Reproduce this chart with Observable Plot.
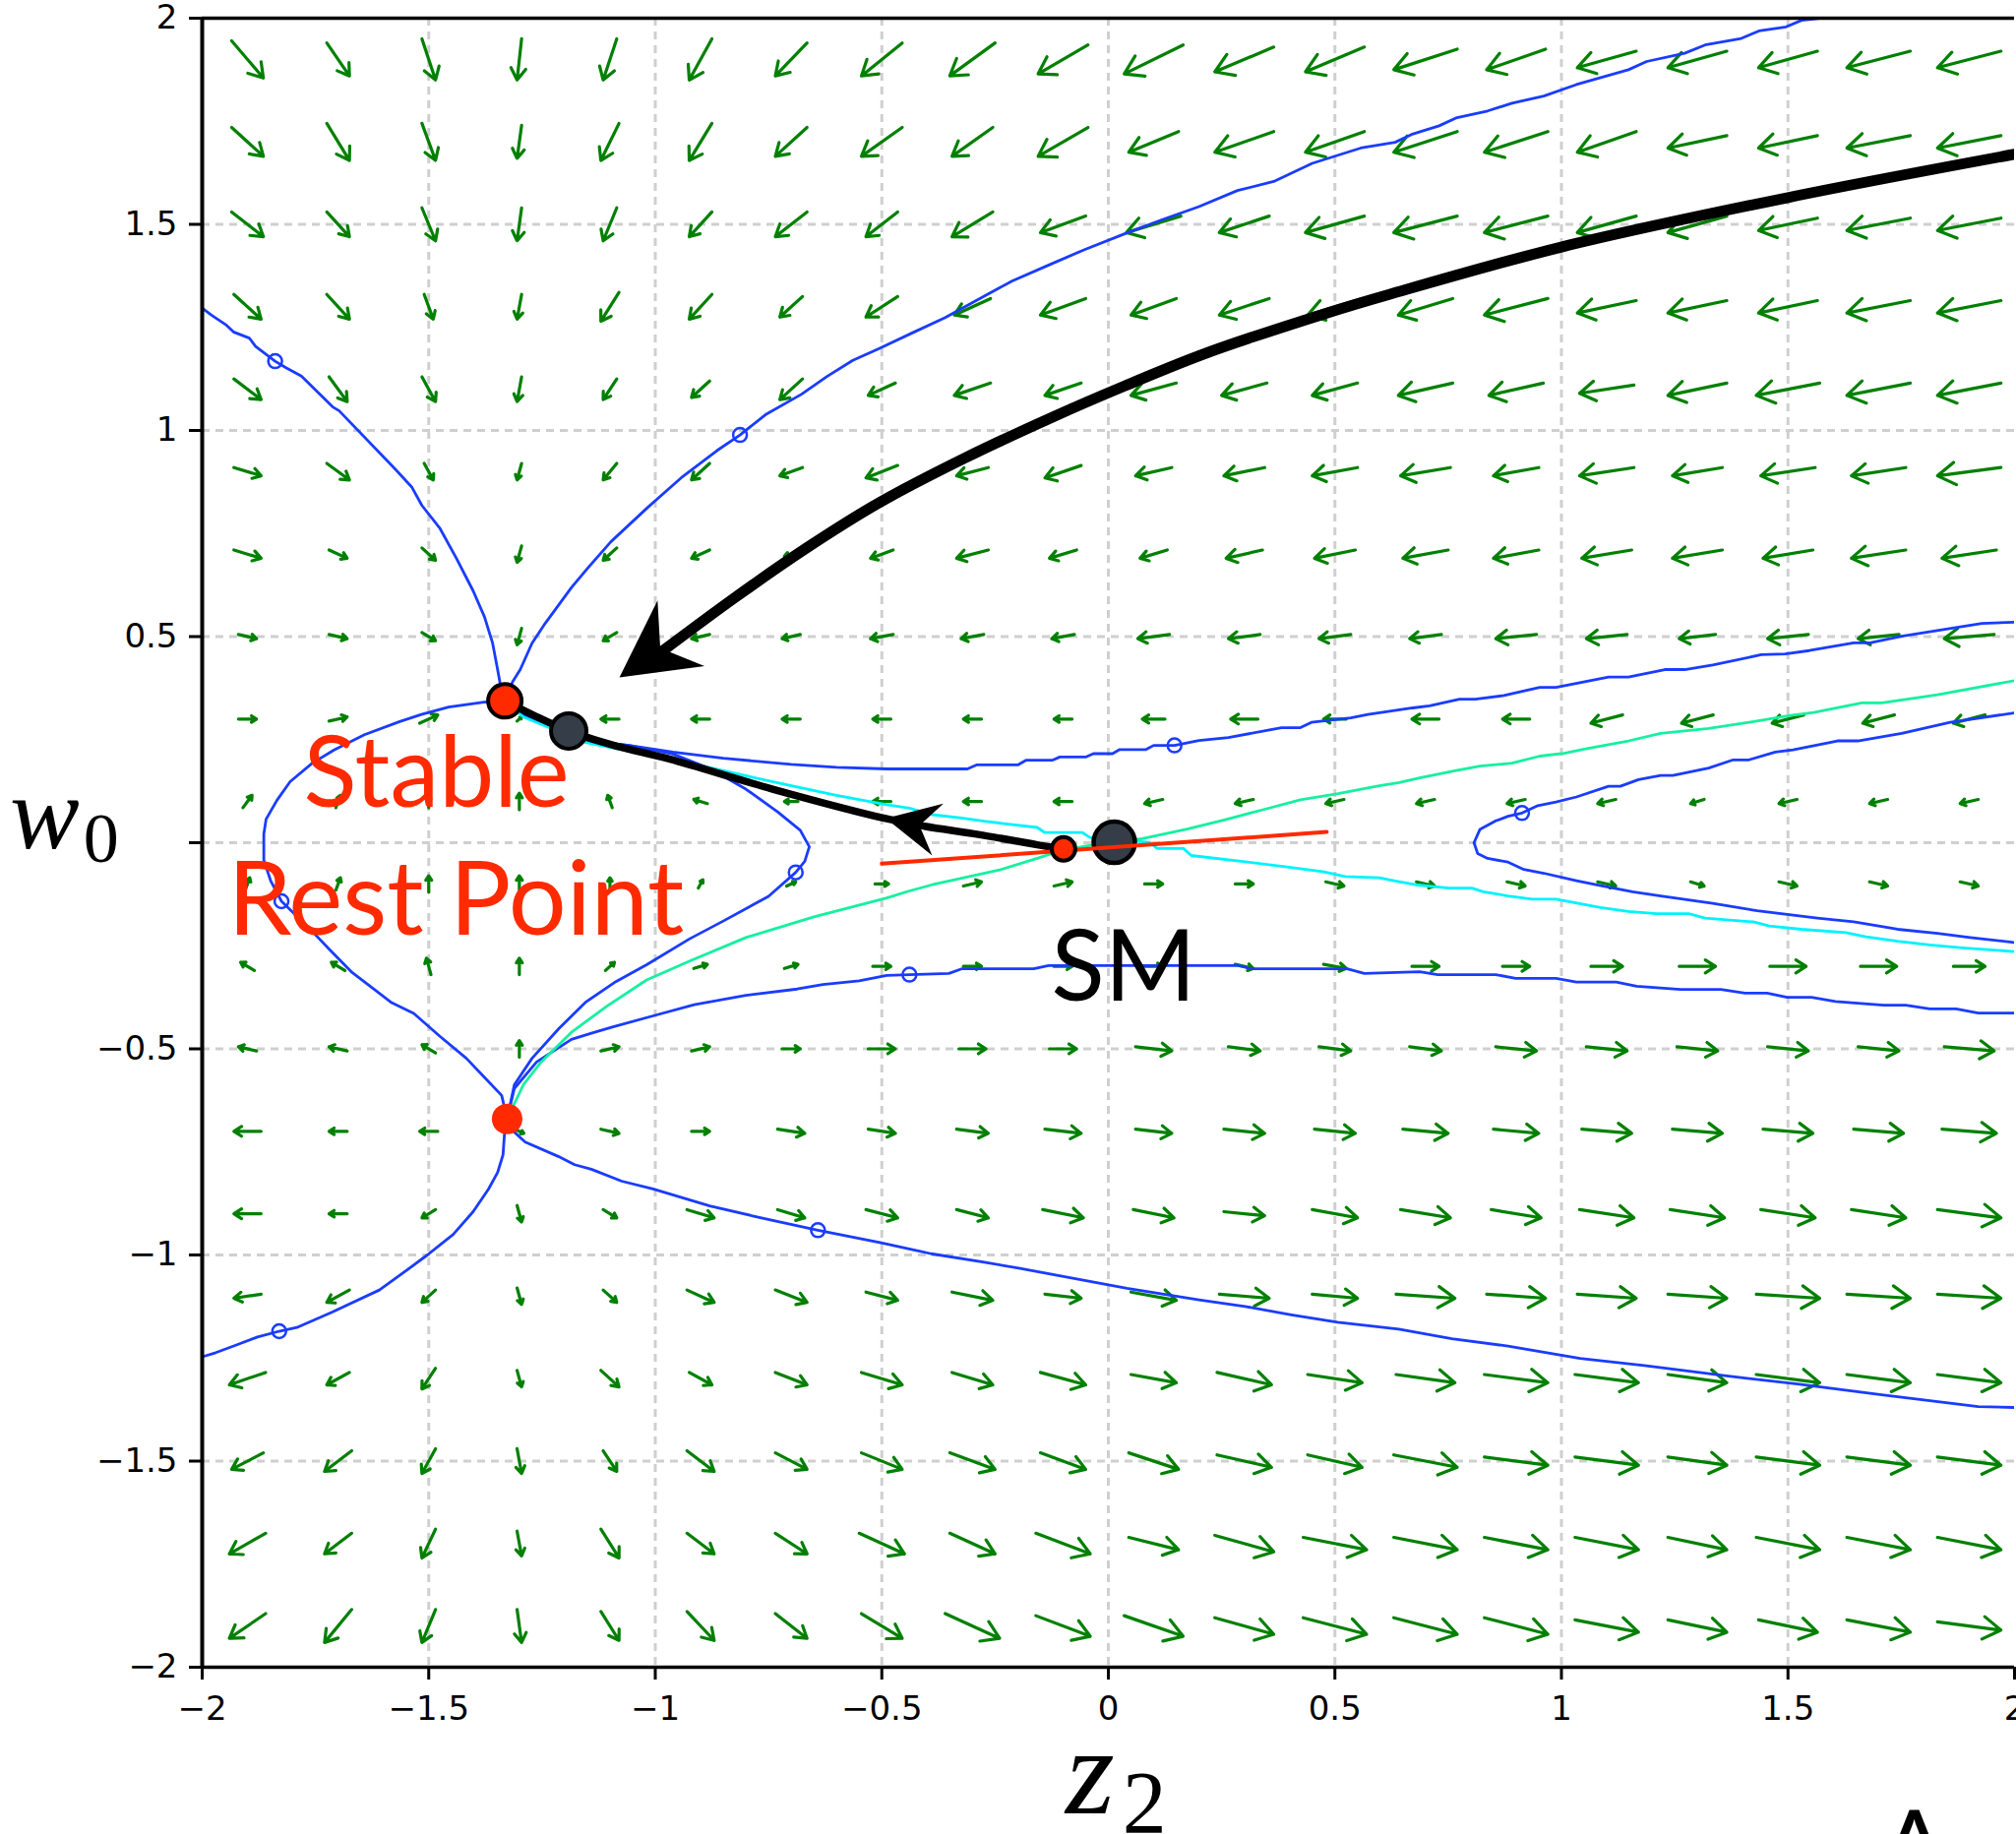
<!DOCTYPE html>
<html><head><meta charset="utf-8">
<script src="https://cdn.jsdelivr.net/npm/d3@7"></script>
<script src="https://cdn.jsdelivr.net/npm/@observablehq/plot@0.6"></script>
<style>
html,body{margin:0;padding:0;background:#fff;overflow:hidden;}
#chart svg{display:block;}
#chart svg g[aria-label$="tick"] path{stroke-width:3px;}
</style></head>
<body><div id="chart"></div>
<script>
// ---------- data ----------
const zGrid = [-1.9,-1.7,-1.5,-1.3,-1.1,-0.9,-0.7,-0.5,-0.3,-0.1,0.1,0.3,0.5,0.7,0.9,1.1,1.3,1.5,1.7,1.9];
const wGrid = [1.9,1.7,1.5,1.3,1.1,0.9,0.7,0.5,0.3,0.1,-0.1,-0.3,-0.5,-0.7,-0.9,-1.1,-1.3,-1.5,-1.7,-1.9];
const tickValues = [-2,-1.5,-1,-0.5,0,0.5,1,1.5,2];
const gridValues = [-1.5,-1,-0.5,0,0.5,1,1.5];

// drawn arrow components (hundredths of an axis unit), one row per w0 value
const arrowU = [
[7,5,3,-1,-3,-5,-7,-9,-10,-11,-13,-13,-13,-14,-13,-13,-13,-13,-14,-14],
[7,5,3,-1,-4,-5,-7,-9,-9,-11,-11,-13,-13,-14,-14,-13,-13,-13,-14,-14],
[7,5,3,-1,-3,-5,-7,-7,-9,-10,-12,-11,-13,-14,-14,-13,-13,-13,-14,-14],
[6,5,2,-1,-4,-5,-5,-7,-8,-10,-10,-11,-12,-12,-14,-13,-13,-13,-14,-14],
[6,4,3,-1,-3,-4,-5,-6,-8,-8,-10,-10,-10,-12,-12,-12,-13,-14,-14,-14],
[6,5,2,-1,-3,-4,-5,-7,-7,-8,-8,-9,-10,-11,-10,-12,-11,-12,-12,-14],
[6,4,3,-1,-3,-4,-3,-5,-7,-6,-6,-8,-9,-10,-10,-11,-11,-11,-12,-12],
[4,4,3,-1,-3,-4,-4,-5,-5,-5,-7,-7,-7,-7,-9,-9,-8,-9,-9,-11],
[4,4,4,1,-4,-4,-4,-4,-4,-4,-5,-6,-5,-6,-6,-7,-7,-7,-7,-7],
[2,1,0,0,-1,-3,-3,-4,-4,-4,-4,-4,-4,-4,-4,-4,-3,-4,-4,-4],
[1,1,0,0,0,1,2,3,4,4,4,4,4,4,4,4,3,4,4,4],
[-3,-3,-1,0,2,3,3,4,4,4,4,4,5,6,6,7,8,8,8,7],
[-4,-4,-3,0,4,4,4,6,6,6,8,7,7,7,9,9,9,9,9,11],
[-6,-4,-4,2,4,4,6,6,7,8,8,9,9,10,10,11,11,11,11,12],
[-6,-4,-3,1,3,6,6,7,7,9,9,9,10,11,11,12,12,12,12,14],
[-6,-5,-3,1,3,6,7,7,9,8,10,11,10,13,13,13,13,14,14,14],
[-8,-5,-3,1,4,5,7,9,9,10,10,12,12,13,14,14,13,14,14,14],
[-7,-6,-3,1,3,6,7,9,10,10,11,12,12,14,14,14,13,14,14,14],
[-8,-6,-3,1,4,6,7,10,10,12,11,13,14,14,14,14,13,14,14,14],
[-8,-6,-3,1,4,6,7,9,12,12,13,13,14,14,14,14,13,13,14,14]
];
const arrowV = [
[-9,-8,-10,-10,-10,-10,-8,-8,-8,-7,-7,-6,-6,-5,-5,-4,-4,-4,-4,-4],
[-7,-9,-9,-8,-9,-9,-7,-7,-7,-7,-5,-5,-5,-5,-5,-5,-3,-3,-3,-3],
[-6,-6,-8,-8,-8,-6,-6,-6,-6,-4,-4,-4,-4,-4,-4,-4,-4,-3,-3,-3],
[-6,-6,-6,-6,-7,-6,-5,-5,-4,-4,-4,-4,-4,-4,-4,-3,-3,-3,-3,-3],
[-5,-6,-6,-6,-5,-4,-5,-3,-3,-3,-3,-3,-3,-3,-3,-2,-3,-3,-3,-3],
[-2,-4,-4,-4,-4,-4,-2,-3,-2,-3,-2,-2,-2,-2,-2,-2,-2,-2,-2,-2],
[-2,-2,-3,-4,-3,-2,-1,-2,-2,-2,-2,-2,-2,-2,-2,-2,-2,-2,-2,-2],
[-1,-1,-2,-4,-2,-1,-1,-1,-1,-1,-1,-1,-1,-1,-1,-1,-1,-1,-1,-1],
[0,1,2,1,0,0,0,0,0,0,0,0,0,0,0,-2,-2,-2,-2,-2],
[3,3,3,4,3,1,0,0,0,0,-1,-1,-1,-1,-1,-1,-1,-1,-1,-1],
[3,3,4,4,3,2,1,0,1,1,0,0,-1,-1,-1,-1,-1,-1,-1,-1],
[2,2,4,4,2,1,1,0,0,0,0,-1,-1,0,0,0,0,0,0,0],
[1,1,2,4,1,1,0,0,0,0,-1,-1,-1,-1,-1,-1,-1,-1,-1,-1],
[0,0,0,-1,-1,0,-1,-1,-1,-1,-1,-1,-1,-1,-1,-1,-1,-1,-1,-1],
[0,0,-2,-4,-2,-2,-2,-2,-2,-2,-2,-1,-2,-2,-2,-2,-2,-2,-2,-2],
[-1,-3,-3,-4,-3,-3,-3,-2,-2,-1,-2,-1,-1,-1,-1,-1,-1,-1,-1,-1],
[-3,-3,-5,-4,-4,-3,-3,-3,-3,-3,-2,-3,-2,-2,-2,-2,-2,-2,-2,-2],
[-4,-5,-6,-6,-5,-5,-4,-4,-4,-4,-4,-3,-3,-3,-2,-2,-2,-2,-2,-2],
[-5,-5,-7,-6,-7,-5,-5,-5,-5,-5,-3,-4,-3,-3,-3,-3,-3,-3,-3,-3],
[-6,-8,-8,-8,-7,-7,-6,-6,-6,-5,-5,-4,-4,-4,-4,-3,-3,-3,-3,-2]
];

// trajectories [z2, w0]
const sepUpperLeft = [[-2.0,1.297],[-1.98,1.28],[-1.946,1.255],[-1.931,1.239],[-1.896,1.224],[-1.882,1.204],[-1.839,1.168],[-1.815,1.152],[-1.781,1.132],[-1.712,1.057],[-1.698,1.048],[-1.573,0.905],[-1.537,0.862],[-1.515,0.818],[-1.475,0.762],[-1.439,0.690],[-1.402,0.611],[-1.377,0.548],[-1.359,0.484],[-1.348,0.420],[-1.338,0.36],[-1.332,0.344]];
const sepUpperRight = [[-1.332,0.344],[-1.315,0.39],[-1.298,0.420],[-1.272,0.484],[-1.243,0.532],[-1.185,0.619],[-1.149,0.666],[-1.098,0.730],[-1.017,0.813],[-0.943,0.885],[-0.864,0.951],[-0.813,0.989],[-0.757,1.038],[-0.677,1.088],[-0.621,1.131],[-0.564,1.170],[-0.507,1.198],[-0.434,1.236],[-0.360,1.274],[-0.269,1.329],[-0.213,1.362],[-0.134,1.400],[-0.054,1.438],[0.036,1.477],[0.116,1.510],[0.200,1.543],[0.285,1.582],[0.365,1.604],[0.450,1.648],[0.557,1.685],[0.633,1.699],[0.669,1.718],[0.730,1.739],[0.767,1.758],[0.837,1.775],[0.891,1.794],[0.961,1.811],[1.033,1.839],[1.148,1.875],[1.188,1.895],[1.272,1.915],[1.317,1.935],[1.397,1.951],[1.436,1.969],[1.496,1.979],[1.530,1.995],[1.570,2.0]];
const loopLeft = [[-1.332,0.344],[-1.378,0.341],[-1.456,0.329],[-1.516,0.311],[-1.564,0.294],[-1.642,0.262],[-1.709,0.225],[-1.757,0.193],[-1.806,0.148],[-1.835,0.103],[-1.859,0.057],[-1.864,0.021],[-1.864,-0.042],[-1.849,-0.092],[-1.825,-0.142],[-1.766,-0.205],[-1.718,-0.260],[-1.669,-0.315],[-1.620,-0.356],[-1.582,-0.388],[-1.533,-0.414],[-1.476,-0.469],[-1.417,-0.523],[-1.378,-0.568],[-1.339,-0.613],[-1.327,-0.67]];
const loopRight = [[-1.332,0.344],[-1.291,0.311],[-1.154,0.248],[-1.058,0.236],[-0.961,0.215],[-0.88,0.18],[-0.80,0.13],[-0.73,0.075],[-0.68,0.03],[-0.66,-0.01],[-0.67,-0.045],[-0.69,-0.072],[-0.75,-0.13],[-0.85,-0.19],[-0.924,-0.233],[-1.019,-0.296],[-1.087,-0.337],[-1.154,-0.387],[-1.213,-0.451],[-1.272,-0.523],[-1.311,-0.587],[-1.327,-0.67]];
const upperOrbit = [[-1.332,0.344],[-1.291,0.311],[-1.154,0.248],[-1.058,0.236],[-0.961,0.22],[-0.85,0.205],[-0.70,0.19],[-0.6,0.183],[-0.489,0.179],[-0.311,0.179],[-0.290,0.189],[-0.199,0.189],[-0.182,0.200],[-0.124,0.200],[-0.107,0.208],[-0.049,0.208],[-0.033,0.216],[0.009,0.216],[0.025,0.226],[0.083,0.226],[0.100,0.236],[0.146,0.236],[0.200,0.248],[0.265,0.255],[0.382,0.279],[0.424,0.279],[0.448,0.292],[0.535,0.303],[0.573,0.311],[0.672,0.327],[0.709,0.332],[0.775,0.348],[0.810,0.348],[0.873,0.357],[0.952,0.377],[0.988,0.377],[1.104,0.402],[1.148,0.402],[1.228,0.420],[1.272,0.420],[1.334,0.431],[1.441,0.456],[1.494,0.458],[1.547,0.466],[1.645,0.485],[1.681,0.485],[1.751,0.501],[1.928,0.532],[2.0,0.535]];
const lowerOrbit = [[-1.327,-0.67],[-1.311,-0.596],[-1.262,-0.532],[-1.185,-0.477],[-1.141,-0.462],[-1.095,-0.447],[-1.005,-0.420],[-0.914,-0.393],[-0.800,-0.370],[-0.687,-0.355],[-0.630,-0.344],[-0.55,-0.335],[-0.489,-0.322],[-0.439,-0.320],[-0.352,-0.317],[-0.324,-0.306],[-0.165,-0.306],[-0.132,-0.298],[0.287,-0.298],[0.316,-0.306],[0.527,-0.306],[0.565,-0.317],[0.687,-0.313],[0.727,-0.320],[0.855,-0.320],[0.899,-0.329],[0.988,-0.329],[1.033,-0.338],[1.121,-0.338],[1.166,-0.348],[1.263,-0.356],[1.352,-0.356],[1.405,-0.365],[1.454,-0.365],[1.498,-0.375],[1.552,-0.375],[1.605,-0.385],[1.711,-0.394],[1.760,-0.394],[1.813,-0.403],[1.871,-0.403],[1.920,-0.413],[2.0,-0.413]];
const sepLowerLeft = [[-1.327,-0.67],[-1.333,-0.709],[-1.336,-0.757],[-1.348,-0.80],[-1.368,-0.84],[-1.402,-0.895],[-1.446,-0.950],[-1.503,-1.0],[-1.546,-1.035],[-1.609,-1.085],[-1.714,-1.139],[-1.791,-1.176],[-1.830,-1.185],[-1.878,-1.199],[-1.926,-1.219],[-1.970,-1.237],[-2.0,-1.247]];
const sepLowerRight = [[-1.327,-0.67],[-1.311,-0.702],[-1.287,-0.726],[-1.214,-0.761],[-1.178,-0.781],[-1.141,-0.792],[-1.074,-0.821],[-1.005,-0.840],[-0.880,-0.881],[-0.778,-0.907],[-0.641,-0.940],[-0.504,-0.970],[-0.391,-0.997],[-0.277,-1.017],[-0.198,-1.032],[-0.061,-1.060],[0.041,-1.081],[0.200,-1.109],[0.302,-1.125],[0.404,-1.145],[0.506,-1.163],[0.641,-1.180],[0.758,-1.203],[0.882,-1.221],[1.041,-1.251],[1.183,-1.268],[1.369,-1.294],[1.521,-1.313],[1.707,-1.339],[1.920,-1.368],[2.0,-1.370]];
const noseOrbit = [[2.0,0.315],[1.858,0.292],[1.751,0.265],[1.654,0.247],[1.609,0.247],[1.511,0.225],[1.472,0.220],[1.414,0.201],[1.379,0.201],[1.325,0.181],[1.246,0.163],[1.219,0.163],[1.170,0.153],[1.130,0.137],[1.104,0.137],[1.033,0.111],[0.988,0.099],[0.948,0.090],[0.913,0.072],[0.882,0.064],[0.855,0.053],[0.820,0.032],[0.807,0.0],[0.815,-0.026],[0.837,-0.038],[0.882,-0.047],[0.917,-0.065],[0.961,-0.074],[1.033,-0.092],[1.076,-0.102],[1.157,-0.119],[1.219,-0.129],[1.334,-0.147],[1.432,-0.165],[1.565,-0.183],[1.645,-0.192],[1.742,-0.210],[1.830,-0.220],[1.902,-0.230],[2.0,-0.242]];
const cyanOrbit = [[-1.332,0.344],[-1.291,0.305],[-1.154,0.243],[-0.924,0.193],[-0.75,0.15],[-0.6,0.115],[-0.489,0.092],[-0.439,0.084],[-0.389,0.068],[-0.324,0.060],[-0.274,0.052],[-0.157,0.037],[-0.141,0.025],[-0.058,0.025],[-0.041,0.013],[0.091,0.001],[0.108,-0.014],[0.166,-0.014],[0.183,-0.031],[0.307,-0.047],[0.390,-0.058],[0.473,-0.070],[0.523,-0.082],[0.598,-0.085],[0.633,-0.093],[0.678,-0.102],[0.752,-0.110],[0.802,-0.110],[0.828,-0.119],[0.882,-0.129],[0.935,-0.137],[0.988,-0.137],[1.086,-0.157],[1.148,-0.167],[1.210,-0.172],[1.281,-0.172],[1.317,-0.183],[1.423,-0.192],[1.459,-0.202],[1.530,-0.210],[1.628,-0.218],[1.672,-0.228],[1.742,-0.239],[1.813,-0.248],[1.885,-0.255],[2.0,-0.264]];
const greenOrbit = [[-1.327,-0.67],[-1.291,-0.587],[-1.252,-0.532],[-1.185,-0.460],[-1.106,-0.396],[-1.019,-0.333],[-0.924,-0.287],[-0.8,-0.23],[-0.65,-0.18],[-0.489,-0.134],[-0.439,-0.117],[-0.389,-0.102],[-0.307,-0.082],[-0.240,-0.066],[-0.157,-0.038],[-0.124,-0.026],[-0.05,-0.008],[0.075,0.010],[0.174,0.033],[0.258,0.056],[0.341,0.080],[0.424,0.104],[0.507,0.119],[0.598,0.138],[0.642,0.146],[0.687,0.157],[0.762,0.174],[0.820,0.186],[0.891,0.193],[0.952,0.210],[1.006,0.217],[1.059,0.229],[1.148,0.247],[1.219,0.265],[1.325,0.277],[1.414,0.292],[1.502,0.308],[1.557,0.316],[1.663,0.339],[1.707,0.339],[1.830,0.359],[2.0,0.393]];
const smPath = [[-0.099,-0.015],[-0.157,-0.005],[-0.287,0.020],[-0.406,0.040],[-0.489,0.058],[-0.741,0.130],[-0.969,0.203],[-1.087,0.235],[-1.191,0.271],[-1.27,0.31],[-1.332,0.344]];
const flowPath = [[2.0,1.67],[1.5,1.565],[1.0,1.445],[0.62,1.33],[0.477,1.283],[0.217,1.188],[0.036,1.108],[-0.122,1.033],[-0.315,0.934],[-0.507,0.824],[-0.666,0.715],[-0.825,0.594],[-0.99,0.46]];
const tangentLine = [[-0.5,-0.051],[0.482,0.026]];
const trajStarts = [[-1.839,1.168],[-0.813,0.989],[-0.69,-0.072],[-1.825,-0.142],[0.146,0.236],[0.913,0.072],[-0.439,-0.320],[-0.641,-0.940],[-1.830,-1.185]];
const stablePoint = [[-1.332,0.344]];
const saddlePoint = [[-1.327,-0.67]];
const pathPoint = [[-1.191,0.271]];
const smPoint = [[0.013,0.001]];
const smRedPoint = [[-0.099,-0.015]];
const arrowHeads = [
  {tip:[-1.078,0.400], from:[-0.942,0.507], size:"big"},
  {tip:[-0.490,0.058], from:[-0.385,0.033], size:"small"}
];
const annotations = [
  {label:"Stable", x:-1.483, y:0.088, color:"#ff2a00", size:100},
  {label:"Rest Point", x:-1.440, y:-0.224, color:"#ff2a00", size:104},
  {label:"SM", x:0.034, y:-0.384, color:"#000000", size:100}
];

// ---------- build ----------
const arrowTable = [];
wGrid.forEach((w, j) => zGrid.forEach((z, i) => {
  const u = arrowU[j][i] / 100, v = arrowV[j][i] / 100;
  arrowTable.push({x1: z - u/2, y1: w - v/2, x2: z + u/2, y2: w + v/2});
}));

const BLUE = "#1a3cff", CYAN = "#00f2ff", SPRING = "#16f0a0", RED = "#ff2a00", GREEN = "#008000", SLATE = "#343d48";
const fmt = d3.format("");
const line = (pts, stroke, sw, curve = "linear") => Plot.line(pts, {x: d => d[0], y: d => d[1], stroke, strokeWidth: sw, clip: true, strokeLinejoin: "round", curve});

const plot = Plot.plot({
  width: 2049, height: 1864,
  marginLeft: 205, marginRight: 2, marginTop: 18, marginBottom: 170,
  x: {domain: [-2, 2], ticks: tickValues, tickSize: 13, tickPadding: 16, tickFormat: d => fmt(d), label: null},
  y: {domain: [-2, 2], ticks: tickValues, tickSize: 13, tickPadding: 12, tickFormat: d => d === 0 ? "" : fmt(d), label: null},
  style: {fontFamily: "DejaVu Sans", fontSize: "34px", color: "black", background: "white", overflow: "hidden"},
  marks: [
    Plot.ruleX(gridValues, {stroke: "#cfcfcf", strokeWidth: 3, strokeDasharray: "8,6"}),
    Plot.ruleY(gridValues, {stroke: "#cfcfcf", strokeWidth: 3, strokeDasharray: "8,6"}),
    Plot.arrow(arrowTable, {x1: "x1", y1: "y1", x2: "x2", y2: "y2", stroke: GREEN, strokeWidth: 3.2, headLength: 10, headAngle: 65}),
    line(sepUpperLeft, BLUE, 2.8),
    line(sepUpperRight, BLUE, 2.8),
    line(loopLeft, BLUE, 2.8),
    line(loopRight, BLUE, 2.8),
    line(upperOrbit, BLUE, 2.8),
    line(lowerOrbit, BLUE, 2.8),
    line(sepLowerLeft, BLUE, 2.8),
    line(sepLowerRight, BLUE, 2.8),
    line(noseOrbit, BLUE, 2.8),
    line(cyanOrbit, CYAN, 2.8),
    line(greenOrbit, SPRING, 2.8),
    Plot.dot(trajStarts, {x: d => d[0], y: d => d[1], r: 7, stroke: BLUE, strokeWidth: 2.5, fill: "none"}),
    line(flowPath, "black", 11, "catmull-rom"),
    line(smPath, "black", 7.5, "catmull-rom"),
    Plot.dot(stablePoint, {x: d => d[0], y: d => d[1], r: 17, fill: RED, stroke: "black", strokeWidth: 4}),
    Plot.dot(pathPoint, {x: d => d[0], y: d => d[1], r: 18, fill: SLATE, stroke: "black", strokeWidth: 4}),
    Plot.dot(saddlePoint, {x: d => d[0], y: d => d[1], r: 15.5, fill: RED}),
    Plot.dot(smPoint, {x: d => d[0], y: d => d[1], r: 21, fill: SLATE, stroke: "black", strokeWidth: 4.5}),
    line(tangentLine, RED, 4),
    Plot.dot(smRedPoint, {x: d => d[0], y: d => d[1], r: 12, fill: RED, stroke: "black", strokeWidth: 4}),
    Plot.ruleX([-2], {stroke: "black", strokeWidth: 4}),
    Plot.ruleY([-2, 2], {stroke: "black", strokeWidth: 3.5}),
    Plot.text(annotations, {x: "x", y: "y", text: "label", fill: "color", fontSize: d => d.size, fontFamily: "Lato", lineAnchor: "bottom", textAnchor: "middle"})
  ]
});
document.getElementById("chart").appendChild(plot);

// ---------- filled arrowheads & axis labels (positioned through the plot's scales) ----------
const sx = plot.scale("x"), sy = plot.scale("y");
const svg = d3.select(plot);
const headSizes = {big: {L: 77, W: 41, N: 51}, small: {L: 54, W: 27, N: 35}};
arrowHeads.forEach(h => {
  const {L, W, N} = headSizes[h.size];
  const tx = sx.apply(h.tip[0]), ty = sy.apply(h.tip[1]);
  const fx = sx.apply(h.from[0]), fy = sy.apply(h.from[1]);
  let bx = fx - tx, by = fy - ty; const m = Math.hypot(bx, by); bx /= m; by /= m;
  const nx = -by, ny = bx;
  const pts = [[tx, ty], [tx + L*bx + W*nx, ty + L*by + W*ny], [tx + N*bx, ty + N*by], [tx + L*bx - W*nx, ty + L*by - W*ny]];
  svg.append("path").attr("d", "M" + pts.map(p => p.join(",")).join("L") + "Z").attr("fill", "black");
});

const SERIF = "'Liberation Serif', 'DejaVu Serif', serif";
const wl = svg.append("text").attr("x", 10).attr("y", sy.apply(0) + 6)
  .attr("text-anchor", "start").attr("font-family", SERIF).attr("fill", "black");
wl.append("tspan").attr("font-family", SERIF).attr("font-style", "italic").attr("font-size", 106).text("w");
wl.append("tspan").attr("font-family", SERIF).attr("font-style", "normal").attr("font-size", 72).attr("dy", 14).attr("dx", 4).text("0");

const zl = svg.append("text").attr("x", sx.apply(0) - 43).attr("y", sy.apply(-2) + 149)
  .attr("text-anchor", "start").attr("font-family", SERIF).attr("fill", "black");
zl.append("tspan").attr("font-family", SERIF).attr("font-style", "italic").attr("font-size", 128).text("z");
zl.append("tspan").attr("font-family", SERIF).attr("font-style", "normal").attr("font-size", 90).attr("dy", 20).attr("dx", 8).text("2");

svg.append("text").attr("x", sx.apply(1.78)).attr("y", sy.apply(-2) + 218)
  .attr("text-anchor", "middle").attr("font-family", "Lato").attr("font-size", 100).attr("fill", "black").text("A");
</script>
</body></html>
